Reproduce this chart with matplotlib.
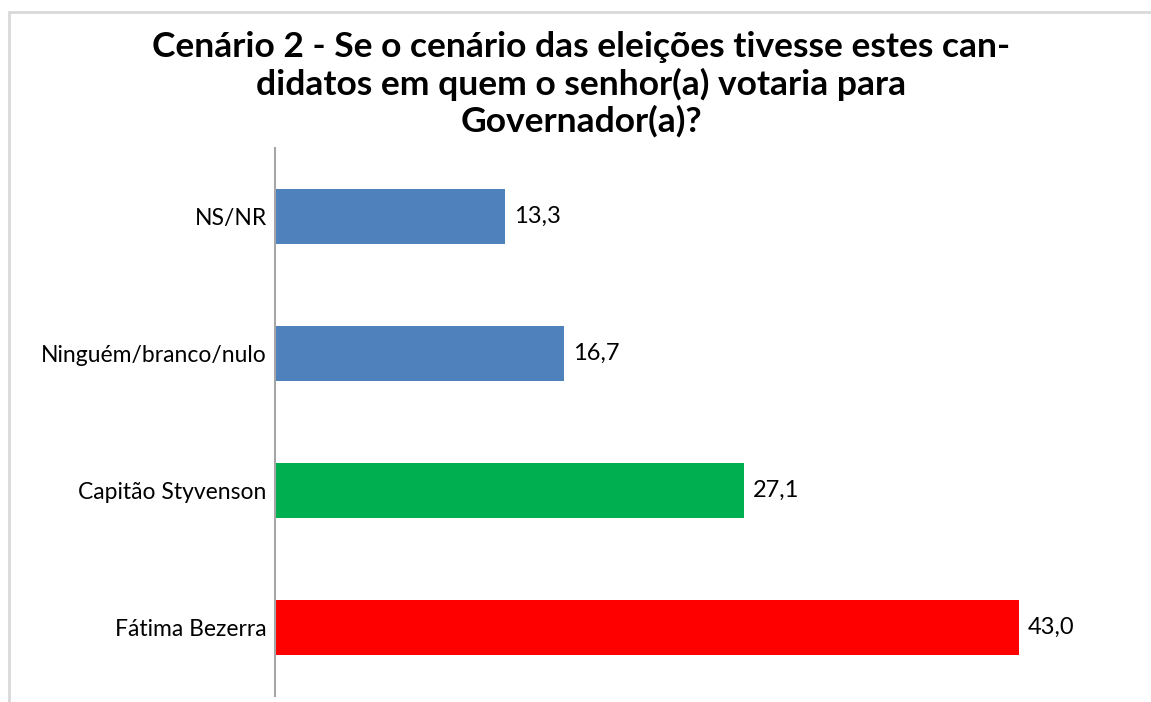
import matplotlib
matplotlib.use('Agg')
import matplotlib.pyplot as plt
from matplotlib.patches import Rectangle

# data, bottom to top
categories = ['Fátima Bezerra', 'Capitão Styvenson', 'Ninguém/branco/nulo', 'NS/NR']
values = [43.0, 27.1, 16.7, 13.3]
colors = ['#FF0000', '#00B050', '#4F81BD', '#4F81BD']
title = ('Cenário 2 - Se o cenário das eleições tivesse estes can-\n'
         'didatos em quem o senhor(a) votaria para\n'
         'Governador(a)?')

plt.rcParams['font.family'] = ['Lato', 'DejaVu Sans']

fig = plt.figure(figsize=(11.51, 7.02), dpi=100)
# light frame around chart area
fig.patches.append(Rectangle((9 / 1151, -0.01), 1.2, 1 - 12 / 702 + 0.01,
                             transform=fig.transFigure, fill=False,
                             edgecolor='#D9D9D9', linewidth=2))

W, H = 1151, 702
ax = fig.add_axes([275 / W, 1 - 696 / H, (1140 - 275) / W, (696 - 148) / H])

ypos = range(len(categories))
ax.barh(ypos, values, height=0.4, color=colors)
ax.set_ylim(-0.5, len(categories) - 0.5)
ax.set_xlim(0, 50)

for y, v in zip(ypos, values):
    ax.text(v + 0.5, y, f'{v:.1f}'.replace('.', ','), va='center', ha='left',
            fontsize=17, color='#000000')

ax.set_yticks(list(ypos))
ax.set_yticklabels(categories, fontsize=16.5)
ax.tick_params(axis='y', length=0, pad=6)
ax.set_xticks([])
for s in ['top', 'right', 'bottom']:
    ax.spines[s].set_visible(False)
ax.spines['left'].set_color('#A6A6A6')
ax.spines['left'].set_linewidth(1.5)

fig.text(581 / W, 1 - 31 / H, title, ha='center', va='top', fontsize=25.5,
         fontweight='bold', linespacing=1.17)

fig.savefig('out.png', dpi=100)
